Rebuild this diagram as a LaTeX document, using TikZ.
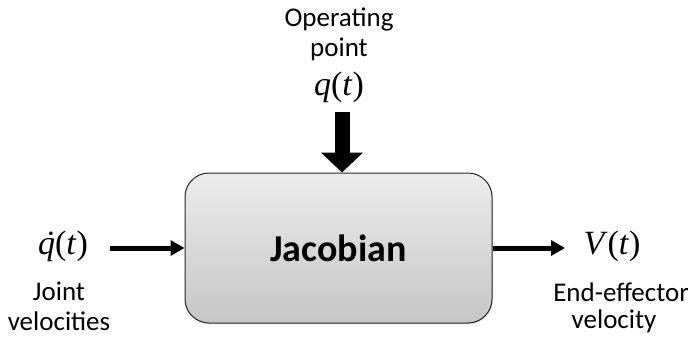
\documentclass[tikz,border=0pt]{standalone}
\usepackage{fontspec}
\setmainfont{Carlito}
\newfontfamily\tms{Liberation Serif}
\usetikzlibrary{arrows.meta,shadows}
\newcommand{\qdotsym}{\ooalign{q\cr\hidewidth\kern0.12em ˙\hidewidth\cr}}
\begin{document}
\begin{tikzpicture}[x=1pt,y=-1pt,
  lbl/.style={font=\fontsize{27}{30}\selectfont, align=center, inner sep=0pt},
  mth/.style={font=\tms\fontsize{34}{36}\selectfont, inner sep=0pt},
  flow/.style={line width=5pt, -{Triangle[width=15pt,length=14pt]}},
  bigflow/.style={line width=15pt, -{Triangle[width=41pt,length=20pt]}},
  block/.style={draw=black!85, line width=1pt, rounded corners=24pt,
    top color=gray!15, bottom color=gray!45,
    drop shadow={opacity=0.25, shadow xshift=1pt, shadow yshift=-1pt}}]
\useasboundingbox (0,0) rectangle (688,338);
\node[block, minimum width=307pt, minimum height=150pt] (box) at (338.5,248) {};
\node[font=\fontsize{38}{40}\selectfont\bfseries] (jac) at (box.center) {Jacobian};
% top input
\node[lbl] (op) at (339,34) {Operating\\point};
\node[mth] (q) at (339,87) {\textit{q}(\textit{t})};
\coordinate (qs) at (342,112);
\draw[bigflow] (qs) -- (qs |- box.north);
% left input
\node[mth] (qd) at (63,246) {\textit{\qdotsym}(\textit{t})};
\node[lbl] (jv) at (59,306) {Joint\\velocities};
\coordinate (ls) at (110,248);
\draw[flow] (ls) -- (box.west |- ls);
% right output
\coordinate (rs) at (box.east |- ls);
\coordinate (re) at (565,248);
\draw[flow] (rs) -- (re);
\node[mth] (v) at (612,246) {\textit{V}(\textit{t})};
\node[lbl] (ee) at (621,292) {End-effector};
\node[lbl] (vel) at (614,321) {velocity};
\end{tikzpicture}
\end{document}
